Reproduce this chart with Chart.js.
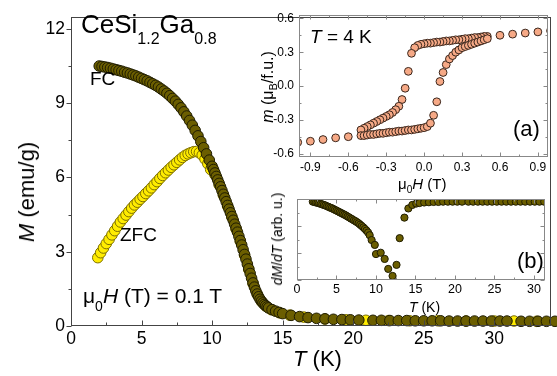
<!DOCTYPE html>
<html>
<head>
<meta charset="utf-8">
<script src="https://cdn.jsdelivr.net/npm/chart.js@4.4.1/dist/chart.umd.min.js"></script>
<style>
body{margin:0;background:#fff}
#wrap{position:relative;width:557px;height:376px;overflow:hidden;font-family:"Liberation Sans",Arial,sans-serif;color:#000}
canvas{position:absolute;left:0;top:0}
.t{position:absolute;white-space:nowrap;line-height:1}
.t span,.t i{line-height:1}
.sb{position:relative}
.rot{transform:translate(-50%,-50%) rotate(-90deg)}
</style>
</head>
<body>
<div id="wrap">
  <canvas id="main" width="557" height="376"></canvas>
  <canvas id="insA" width="557" height="376"></canvas>
  <canvas id="insB" width="557" height="376"></canvas>

  <div class="t" style="left:81px;top:11px;font-size:26px">CeSi<span class="sb" style="font-size:16px;top:11px">1.2</span>Ga<span class="sb" style="font-size:16px;top:11px">0.8</span></div>
  <div class="t" style="left:90px;top:69px;font-size:19px">FC</div>
  <div class="t" style="left:120px;top:225px;font-size:19px">ZFC</div>
  <div class="t" style="left:83px;top:285px;font-size:21px">μ<span class="sb" style="font-size:14px;top:8px">0</span><i>H</i> (T) = 0.1 T</div>
  <div class="t rot" style="left:27px;top:192px;font-size:22px"><i>M</i> (emu/g)</div>
  <div class="t" style="left:293px;top:348px;font-size:22px"><i>T</i> (K)</div>

  <div class="t" style="left:310px;top:27px;font-size:19px"><i>T</i> = 4 K</div>
  <div class="t" style="left:513px;top:118px;font-size:22px">(a)</div>
  <div class="t rot" style="left:268px;top:87px;font-size:16px"><i>m</i> (μ<span class="sb" style="font-size:11px;top:4px">B</span>/f.u.)</div>
  <div class="t" style="left:398px;top:176px;font-size:15px">μ<span class="sb" style="font-size:10px;top:4px">0</span><i>H</i> (T)</div>

  <div class="t" style="left:517px;top:250px;font-size:22px">(b)</div>
  <div class="t rot" style="left:277px;top:239px;font-size:14px"><i>dM</i>/<i>dT</i> (arb. u.)</div>
  <div class="t" style="left:409px;top:300px;font-size:14px"><i>T</i> (K)</div>
</div>
<script>
// main panel: M(T), FC and ZFC at 0.1 T
const fcT = [
  2.0, 2.2, 2.4, 2.6, 2.8, 3.0, 3.2, 3.4, 3.6, 3.8, 4.0, 4.2, 4.4, 4.6, 4.8, 5.0, 5.2, 5.4, 5.6, 5.8,
  6.0, 6.2, 6.4, 6.6, 6.8, 7.0, 7.2, 7.4, 7.6, 7.8, 8.0, 8.2, 8.4, 8.6, 8.8, 9.0, 9.2, 9.4, 9.6, 9.8,
  10.0, 10.1, 10.2, 10.3, 10.4, 10.5, 10.6, 10.7, 10.8, 10.9, 11.0, 11.1, 11.2, 11.3, 11.4, 11.5, 11.6, 11.7, 11.8, 11.9,
  12.0, 12.1, 12.2, 12.3, 12.4, 12.5, 12.6, 12.7, 12.8, 12.9, 13.0, 13.1, 13.2, 13.3, 13.4, 13.5, 13.6, 13.7, 13.8, 13.9,
  14.0, 14.25, 14.5, 14.75, 15.0, 15.6, 16.2, 16.8, 17.4, 18.0, 18.6, 19.2, 19.8, 20.4,
  21.4, 22.0, 22.6, 23.2, 23.8, 24.4, 25.0, 25.6, 26.2, 26.8, 27.4, 28.0, 28.6, 29.2, 29.8, 30.4, 30.9,
  31.9, 32.5, 33.1, 33.7, 34.3
];
const fcM = [
  10.50, 10.48, 10.46, 10.44, 10.41, 10.38, 10.35, 10.32, 10.29, 10.25, 10.22, 10.18, 10.14, 10.10, 10.05, 10.00, 9.95, 9.90, 9.84, 9.78,
  9.72, 9.65, 9.57, 9.49, 9.40, 9.30, 9.19, 9.08, 8.95, 8.81, 8.65, 8.48, 8.30, 8.11, 7.90, 7.68, 7.45, 7.20, 6.95, 6.70,
  6.45, 6.32, 6.18, 6.04, 5.90, 5.76, 5.62, 5.47, 5.32, 5.17, 5.02, 4.87, 4.72, 4.57, 4.42, 4.27, 4.11, 3.95, 3.79, 3.62,
  3.45, 3.27, 3.08, 2.89, 2.70, 2.50, 2.31, 2.12, 1.93, 1.74, 1.57, 1.42, 1.29, 1.18, 1.08, 1.00, 0.93, 0.87, 0.82, 0.77,
  0.73, 0.66, 0.60, 0.55, 0.50, 0.43, 0.38, 0.34, 0.31, 0.29, 0.27, 0.26, 0.25, 0.24,
  0.23, 0.23, 0.22, 0.22, 0.22, 0.21, 0.21, 0.21, 0.21, 0.20, 0.20, 0.20, 0.20, 0.20, 0.20, 0.20, 0.20,
  0.19, 0.19, 0.19, 0.19, 0.19
];
const zfcT = [
  1.9, 2.1, 2.3, 2.5, 2.7, 2.9, 3.1, 3.3, 3.5, 3.7, 3.9, 4.1, 4.3, 4.5, 4.7, 4.9, 5.1, 5.3, 5.5, 5.7,
  5.9, 6.1, 6.3, 6.5, 6.7, 6.9, 7.1, 7.3, 7.5, 7.7, 7.9, 8.1, 8.3, 8.5, 8.7, 8.9, 9.1, 9.3, 9.5, 9.7, 9.9,
  10.2, 10.5, 10.8, 11.1, 11.4, 11.7, 12.0, 12.3, 12.6, 12.9, 13.2, 13.5, 13.8, 14.2, 14.8, 15.5, 16.5,
  18.0, 19.5, 20.9, 22.5, 24.0, 26.0, 28.0, 30.0, 31.4, 33.0
];
const zfcM = [
  2.76, 2.96, 3.15, 3.33, 3.50, 3.68, 3.85, 4.03, 4.20, 4.34, 4.48, 4.62, 4.76, 4.89, 5.00, 5.12, 5.23, 5.35, 5.46, 5.58,
  5.71, 5.83, 5.96, 6.08, 6.19, 6.30, 6.41, 6.51, 6.61, 6.71, 6.81, 6.89, 6.95, 7.00, 7.04, 7.05, 7.00, 6.90, 6.74, 6.55, 6.32,
  6.12, 5.70, 5.28, 4.84, 4.40, 3.92, 3.42, 2.86, 2.28, 1.72, 1.28, 0.99, 0.81, 0.66, 0.53, 0.44, 0.36,
  0.28, 0.25, 0.23, 0.22, 0.21, 0.21, 0.20, 0.20, 0.20, 0.19
];

// inset (a): m(H) loop at 4 K
const hOutPos = [1.0, 0.9, 0.8, 0.7, 0.6];
const mOutPos = [0.49, 0.48, 0.47, 0.46, 0.45];
const hOutNeg = [-0.6, -0.7, -0.8, -0.9, -1.0];
const mOutNeg = [-0.45, -0.46, -0.475, -0.49, -0.50];
const hLoop = [
  0.5, 0.475, 0.45, 0.425, 0.4, 0.375, 0.35, 0.325, 0.3, 0.275, 0.25, 0.225, 0.2, 0.175, 0.15, 0.125, 0.1, 0.075, 0.05, 0.025,
  0, -0.025, -0.05, -0.075, -0.1, -0.125, -0.15, -0.175, -0.2, -0.225, -0.25, -0.275, -0.3, -0.325, -0.35, -0.375, -0.4, -0.425, -0.45, -0.475, -0.5
];
// field going down (0.5 -> -0.5)
const mDown = [
  0.44, 0.44, 0.435, 0.43, 0.43, 0.425, 0.42, 0.42, 0.415, 0.41, 0.41, 0.405, 0.40, 0.40, 0.395, 0.39, 0.39, 0.385, 0.38, 0.38,
  0.375, 0.37, 0.36, 0.34, 0.29, 0.13, -0.02, -0.12, -0.18, -0.21, -0.235, -0.255, -0.27, -0.285, -0.30, -0.315, -0.33, -0.345, -0.36, -0.375, -0.39
];
// field going up (-0.5 -> 0.5)
const mUp = [
  -0.44, -0.44, -0.435, -0.43, -0.43, -0.425, -0.42, -0.42, -0.415, -0.41, -0.41, -0.405, -0.40, -0.40, -0.395, -0.39, -0.39, -0.385, -0.38, -0.375,
  -0.37, -0.36, -0.33, -0.26, -0.14, 0.04, 0.12, 0.19, 0.24, 0.27, 0.30, 0.32, 0.34, 0.35, 0.36, 0.37, 0.38, 0.39, 0.40, 0.41, 0.42
];

// inset (b): dM/dT
const dT = [
  2.0, 2.2, 2.4, 2.6, 2.8, 3.0, 3.2, 3.4, 3.6, 3.8, 4.0, 4.2, 4.4, 4.6, 4.8, 5.0, 5.2, 5.4, 5.6, 5.8,
  6.0, 6.2, 6.4, 6.6, 6.8, 7.0, 7.2, 7.4, 7.6, 7.8, 8.0, 8.2, 8.4, 8.6, 8.8, 9.0, 9.2,
  9.45, 9.85, 10.0, 10.6, 11.1, 11.55, 12.1, 12.6, 13.0, 13.6, 14.1, 14.6, 15.1,
  15.5, 16.1, 16.7, 17.3, 17.9, 18.5, 19.1, 19.7, 20.3, 20.9,
  21.7, 22.3, 22.9, 23.5, 24.1, 24.7, 25.3, 25.9, 26.5, 27.1, 27.7, 28.3, 28.9, 29.5, 30.1, 30.7, 31.3
];
const dMdT = [
  2.90, 2.89, 2.87, 2.86, 2.84, 2.82, 2.80, 2.78, 2.76, 2.73, 2.71, 2.68, 2.66, 2.63, 2.60, 2.57, 2.54, 2.51, 2.48, 2.45,
  2.42, 2.39, 2.35, 2.32, 2.28, 2.25, 2.21, 2.18, 2.14, 2.10, 2.05, 2.00, 1.95, 1.89, 1.83, 1.76, 1.66,
  1.48, 1.30, 0.96, 1.01, 0.78, 0.41, 0.15, 0.56, 1.55, 2.31, 2.65, 2.78, 2.83,
  2.85, 2.87, 2.88, 2.89, 2.89, 2.90, 2.90, 2.90, 2.90, 2.90,
  2.90, 2.90, 2.90, 2.90, 2.90, 2.90, 2.90, 2.90, 2.90, 2.90, 2.90, 2.90, 2.90, 2.90, 2.90, 2.90, 2.90
];

const FONT = '"Liberation Sans", Arial, sans-serif';
const pts = (xs, ys) => xs.map((x, i) => ({x: x, y: ys[i]}));

// box round the plot area plus major/minor tick marks
const framePlugin = {
  id: 'frame',
  afterDraw(chart, args, o) {
    const ctx = chart.ctx, a = chart.chartArea;
    const xs = chart.scales.x, ys = chart.scales.y;
    ctx.save();
    ctx.strokeStyle = o.color;
    ctx.lineWidth = 1;
    const L = Math.round(a.left) + 0.5, R = Math.round(a.right) - 0.5;
    const T = Math.round(a.top) + 0.5, B = Math.round(a.bottom) - 0.5;
    ctx.strokeRect(L, T, R - L, B - T);
    const line = (x1, y1, x2, y2) => { ctx.beginPath(); ctx.moveTo(x1, y1); ctx.lineTo(x2, y2); ctx.stroke(); };
    const marks = (min, max, step) => {
      const h = step / 2, out = [];
      for (let i = Math.ceil(min / h - 1e-9); i * h <= max + 1e-9; i++) out.push([i * h, i % 2 === 0]);
      return out;
    };
    marks(xs.min, xs.max, o.xStep).forEach(([v, big]) => {
      const p = Math.round(xs.getPixelForValue(v)) + 0.5, len = big ? o.major : o.minor;
      line(p, B, p, o.xOut ? B + len : B - len);
      if (o.mirror) line(p, T, p, T + len);
    });
    marks(ys.min, ys.max, o.yStep).forEach(([v, big]) => {
      const p = Math.round(ys.getPixelForValue(v)) + 0.5, len = big ? o.major : o.minor;
      line(L, p, o.yOut ? L - len : L + len, p);
      if (o.mirror) line(R, p, R - len, p);
    });
    ctx.restore();
  }
};

function axis(min, max, step, size, fit, tick) {
  return Object.assign({
    type: 'linear', min: min, max: max,
    grid: {display: false, drawTicks: false},
    border: {display: false},
    afterFit: fit,
    ticks: {stepSize: step, includeBounds: false, maxRotation: 0, color: '#000', font: {family: FONT, size: size}}
  }, tick ? {ticks: Object.assign({stepSize: step, includeBounds: false, maxRotation: 0, color: '#000', font: {family: FONT, size: size}}, tick)} : {});
}

const base = {
  responsive: false, animation: false, devicePixelRatio: 1, events: []
};

new Chart(document.getElementById('main'), {
  type: 'scatter',
  data: {
    datasets: [
      {data: pts(fcT, fcM), pointRadius: 5.3, pointBorderWidth: 1, pointBackgroundColor: '#6b5e00', pointBorderColor: '#1f1c00', clip: false},
      {data: pts(zfcT, zfcM), pointRadius: 5.3, pointBorderWidth: 1, pointBackgroundColor: '#ffec00', pointBorderColor: '#7d6f00', clip: false}
    ]
  },
  options: Object.assign({}, base, {
    layout: {padding: {left: 0, right: 4, top: 8.5, bottom: 0}},
    plugins: {legend: {display: false}, tooltip: {enabled: false},
      frame: {color: '#444', xStep: 5, yStep: 3, major: 5, minor: 3, xOut: false, yOut: true, mirror: false}},
    scales: {
      x: axis(0, 34, 5, 17.5, s => { s.height = 50; }, {padding: 3}),
      y: axis(0, 12.5, 3, 17.5, s => { s.width = 71; }, {padding: 6})
    }
  }),
  plugins: [framePlugin]
});

new Chart(document.getElementById('insA'), {
  type: 'scatter',
  data: {
    datasets: [{
      data: pts(hOutPos, mOutPos).concat(pts(hLoop, mDown), pts(hOutNeg, mOutNeg), pts(hLoop.slice().reverse(), mUp)),
      pointRadius: 3.9, pointBorderWidth: 1, pointBackgroundColor: '#f6a986', pointBorderColor: '#3a261c', clip: 0
    }]
  },
  options: Object.assign({}, base, {
    layout: {padding: {left: 0, right: 9, top: 15, bottom: 0}},
    plugins: {legend: {display: false}, tooltip: {enabled: false},
      frame: {color: '#888', xStep: 0.3, yStep: 0.3, major: 4, minor: 2, xOut: false, yOut: false, mirror: true}},
    scales: {
      x: axis(-0.99, 0.98, 0.3, 12, s => { s.height = 219; }, {padding: 3, callback: v => v.toFixed(1)}),
      y: axis(-0.63, 0.63, 0.3, 12, s => { s.width = 299; }, {padding: 5, callback: v => v.toFixed(1)})
    }
  }),
  plugins: [framePlugin]
});

new Chart(document.getElementById('insB'), {
  type: 'scatter',
  data: {
    datasets: [{
      data: pts(dT, dMdT),
      pointRadius: 3.6, pointBorderWidth: 1, pointBackgroundColor: '#6b5e00', pointBorderColor: '#1f1c00'
    }]
  },
  options: Object.assign({}, base, {
    layout: {padding: {left: 0, right: 12, top: 199, bottom: 0}},
    plugins: {legend: {display: false}, tooltip: {enabled: false},
      frame: {color: '#888', xStep: 5, yStep: 1, major: 4, minor: 2, xOut: false, yOut: false, mirror: true}},
    scales: {
      x: axis(0, 31.4, 5, 12.5, s => { s.height = 96; }, {padding: 2}),
      y: axis(0, 3, 1, 12, s => { s.width = 297; }, {display: false})
    }
  }),
  plugins: [framePlugin]
});
</script>
</body>
</html>
